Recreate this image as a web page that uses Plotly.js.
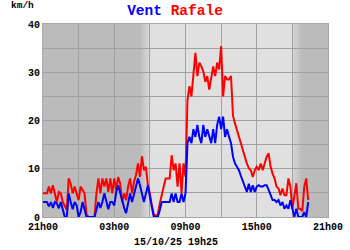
<!DOCTYPE html>
<html>
<head>
<meta charset="utf-8">
<script src="https://cdn.plot.ly/plotly-3.0.1.min.js"></script>
<style>html,body{margin:0;padding:0;background:#fff;}#chart{width:350px;height:250px;}</style>
</head>
<body>
<div id="chart"></div>
<script>
// ---- Data (10-minute samples starting 14/10/25 21h00) ----
const startTime = "2025-10-14T21:00:00Z";
const stepMinutes = 10;

const vent = [
  3.1, 3.1, 3.1, 2.2, 3.1, 1.9, 3.1, 2.8, 1.8, 3.1, 1.2, 0, 0,
  4.9, 3.1, 1.6, 3.1, 2.4, 0, 1.0, 3.1, 1.5, 0, 0, 0, 0, 0,
  1.5, 3.1, 1.9, 3.1, 4.9, 3.1, 1.6, 3.1, 3.1, 2.4, 5.2, 6.6, 4.9, 3.1, 1.9, 0.8, 3.1, 4.9, 3.1, 4.6, 6.3, 8.0, 6.6, 4.9,
  3.1, 4.9, 6.6, 4.2, 2.4, 0, 0, 0, 1.4, 3.1, 3.1, 3.1, 3.1, 3.1, 4.9, 3.1, 4.9, 3.1, 3.1, 4.9, 3.1, 4.9,
  15.3, 16.6, 15.3, 18.2, 16.6, 19.1, 16.6, 15.3, 19.1, 16.6, 18.2, 16.6, 15.3, 18.2, 15.3, 19.1, 20.8, 18.2, 20.8, 16.6, 18.2, 16.6, 15.3, 12.5,
  11.1, 10.4, 9.7, 8.5, 7.3, 6.3, 5.2, 6.9, 5.2, 6.6, 5.2, 6.3, 6.6, 6.3, 6.3, 6.6, 6.6, 5.6, 4.5, 3.5, 3.5, 3.1, 3.5, 2.4, 3.1, 1.7, 2.4, 1.7, 3.5, 1.7, 0, 1.7, 0, 0, 0, 1.0, 0, 3.1
];

const rafale = [
  4.9, 4.9, 4.9, 6.3, 4.9, 6.6, 4.9, 3.1, 5.2, 4.9, 3.1, 2.4, 1.5,
  8.0, 6.9, 4.9, 6.3, 4.9, 3.5, 6.3, 5.6, 4.9, 0.5, 0, 0, 0, 0,
  4.9, 8.0, 4.9, 8.0, 6.3, 8.0, 5.2, 8.0, 4.9, 8.0, 5.6, 8.3, 6.9, 3.1, 4.9, 3.5, 6.3, 8.0, 4.9, 7.3, 8.7,
  11.1, 8.3, 12.6, 9.7, 10.4, 6.6, 4.9, 2.4, 0.5, 0.3, 0.5, 2.8, 4.9, 6.3, 8.0, 8.0, 8.0, 12.8, 9.7, 11.1, 6.3, 11.1, 4.9, 11.1, 8.3,
  24.3, 27.1, 25.0, 30.2, 34.0, 29.2, 32.0, 31.2, 30.2, 28.0, 29.2, 26.4, 28.5, 31.2, 29.2, 32.0, 30.6, 35.4, 25.0, 29.2, 28.5, 28.5, 29.2, 21.0,
  19.4, 18.0, 16.4, 15.3, 13.5, 12.5, 11.1, 10.1, 9.7, 8.3, 9.7, 10.4, 9.7, 11.1, 9.7, 11.1, 12.5, 13.2, 10.4, 9.0, 8.0, 6.3, 5.9, 4.5, 5.9, 4.5, 4.5, 8.0, 6.3, 1.7, 4.5, 7.0, 1.7, 1.7, 1.2, 6.3, 8.0, 3.5
];

const xTickVals = ["2025-10-14 21:00","2025-10-15 00:00","2025-10-15 03:00","2025-10-15 06:00","2025-10-15 09:00",
                   "2025-10-15 12:00","2025-10-15 15:00","2025-10-15 18:00","2025-10-15 21:00"];
const xTickText = ["21h00","","03h00","","09h00","","15h00","","21h00"];
const yTickVals = [0,5,10,15,20,25,30,35,40];
const yTickText = ["0","","10","","20","","30","","40"];
const titleParts = ["Vent","Rafale"];
const unitLabel = "km/h";
const stampLabel = "15/10/25 19h25";

// ---- timestamps ----
function fmt(d){
  const p = n => String(n).padStart(2,"0");
  return d.getUTCFullYear()+"-"+p(d.getUTCMonth()+1)+"-"+p(d.getUTCDate())+" "+p(d.getUTCHours())+":"+p(d.getUTCMinutes());
}
const t0 = new Date(startTime).getTime();
const times = vent.map((_, i) => fmt(new Date(t0 + i*stepMinutes*60000)));

// ---- background (night / day with twilight gradients) ----
const dark = [187,187,187], light = [224,224,224];
function mix(a,b,f){ return "rgb("+a.map((v,k)=>Math.round(v+(b[k]-v)*f)).join(",")+")"; }
const shapes = [];
shapes.push({type:"rect", xref:"x", yref:"paper", x0:"2025-10-15 06:00", x1:"2025-10-15 18:00", y0:0, y1:1,
             fillcolor:"rgb(224,224,224)", line:{width:0}, layer:"below"});
const nSteps = 10, gradMin = 50;
const sunrise = new Date("2025-10-15T06:00:00Z").getTime();
const sunset = new Date("2025-10-15T18:00:00Z").getTime();
for (let k=0;k<nSteps;k++){
  const a = sunrise - gradMin*60000 + k*gradMin*60000/nSteps;
  const b = a + gradMin*60000/nSteps + 30000;
  shapes.push({type:"rect", xref:"x", yref:"paper", x0:fmt(new Date(a)), x1:fmt(new Date(b)), y0:0, y1:1,
               fillcolor:mix(dark,light,(k+0.5)/nSteps), line:{width:0}, layer:"below"});
  const c = sunset + k*gradMin*60000/nSteps;
  const d = c + gradMin*60000/nSteps + 30000;
  shapes.push({type:"rect", xref:"x", yref:"paper", x0:fmt(new Date(c)), x1:fmt(new Date(d)), y0:0, y1:1,
               fillcolor:mix(light,dark,(k+0.5)/nSteps), line:{width:0}, layer:"below"});
}

const monoBold = {family:"Liberation Mono, Courier New, monospace", color:"#000", weight:"bold"};

const traces = [
  {x: times, y: rafale, type:"scatter", mode:"lines", line:{color:"#ff0000", width:2}, name:titleParts[1], hoverinfo:"skip"},
  {x: times, y: vent, type:"scatter", mode:"lines", line:{color:"#0000ff", width:2}, name:titleParts[0], hoverinfo:"skip"}
];

const layout = {
  width:350, height:250,
  margin:{l:43, r:22, t:24, b:33},
  paper_bgcolor:"#ffffff",
  plot_bgcolor:"rgb(187,187,187)",
  showlegend:false,
  title:{
    text:'<span style="color:#0000ff">'+titleParts[0]+'</span> <span style="color:#ff0000">'+titleParts[1]+'</span>',
    font:Object.assign({}, monoBold, {size:14.5}),
    x:0.5, xanchor:"center", xref:"container",
    y:1-10/250, yanchor:"middle", yref:"container"
  },
  xaxis:{
    type:"date",
    range:["2025-10-14 21:00","2025-10-15 21:00"],
    tickmode:"array", tickvals:xTickVals, ticktext:xTickText,
    showgrid:true, gridcolor:"#a0a0a0", gridwidth:1,
    showline:true, linecolor:"#a8a8a8", linewidth:1, mirror:true,
    zeroline:false, ticks:"",
    tickfont:Object.assign({}, monoBold, {size:10}),
    fixedrange:true
  },
  yaxis:{
    range:[0,40],
    tickmode:"array", tickvals:yTickVals, ticktext:yTickText,
    showgrid:true, gridcolor:"#a0a0a0", gridwidth:1,
    showline:true, linecolor:"#a8a8a8", linewidth:1, mirror:true,
    zeroline:false, ticks:"",
    tickfont:Object.assign({}, monoBold, {size:10}),
    fixedrange:true
  },
  shapes:shapes,
  annotations:[
    {text:unitLabel, xref:"paper", yref:"paper", x:(22-43)/285, y:(217-6)/193, xanchor:"center", yanchor:"middle",
     showarrow:false, font:Object.assign({}, monoBold, {size:9.5})},
    {text:stampLabel, xref:"paper", yref:"paper", x:(176-43)/285, y:(217-242)/193, xanchor:"center", yanchor:"middle",
     showarrow:false, font:Object.assign({}, monoBold, {size:10})}
  ]
};

Plotly.newPlot("chart", traces, layout, {staticPlot:true, displayModeBar:false});
</script>
</body>
</html>
